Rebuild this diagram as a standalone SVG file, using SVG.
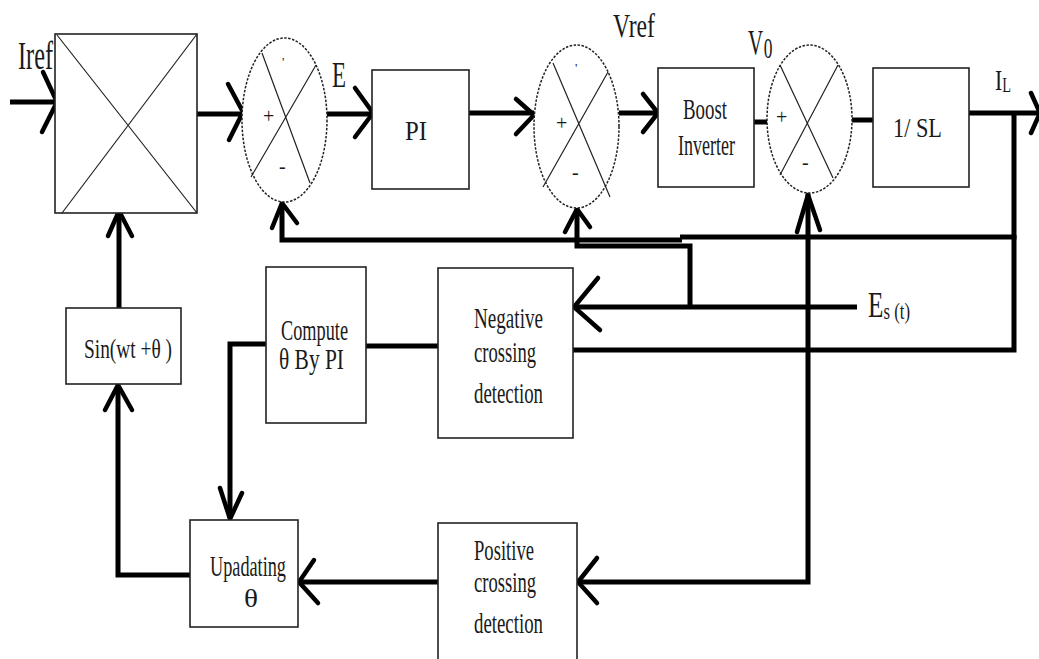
<svg xmlns="http://www.w3.org/2000/svg" width="1039" height="659" viewBox="0 0 1039 659">
<style>
.box{fill:#fff;stroke:#222;stroke-width:1.6}
.thin{fill:none;stroke:#222;stroke-width:1.2}
.sum{fill:#fff;stroke:#222;stroke-width:1.5;stroke-dasharray:2.5 1.5}
.w{fill:none;stroke:#000;stroke-width:5;stroke-linejoin:miter;stroke-linecap:butt}
.ah{fill:none;stroke:#000;stroke-width:4.5;stroke-linecap:round;stroke-linejoin:miter}
text{font-family:"Liberation Serif","Times New Roman",serif;fill:#1a1a1a}
.sg{font-size:20px}
</style>
<rect width="1039" height="659" fill="#fff"/>

<g id="connectors">
  <path class="w" d="M10,102 H55"/>
  <path class="w" d="M197,114 H242"/>
  <path class="w" d="M327,114 H372"/>
  <path class="w" d="M469,113 H534"/>
  <path class="w" d="M619,113 H658"/>
  <path class="w" d="M754,122 H770"/>
  <path class="w" d="M852,120 H873"/>
  <path class="w" d="M969,113 H1039"/>
  <path class="w" d="M1014,113 V237 H680"/>
  <path class="w" d="M682,240 H282 V204"/>
  <path class="w" d="M577,209 V246 H690 V307"/>
  <path class="w" d="M857,307 H575"/>
  <path class="w" d="M1014,235 V350 H573"/>
  <path class="w" d="M808,194 V582 H579"/>
  <path class="w" d="M438,582 H300"/>
  <path class="w" d="M119,308 V213"/>
  <path class="w" d="M190,575 H118 V386"/>
  <path class="w" d="M266,344 H230 V518"/>
  <path class="w" d="M366,346 H438"/>
  <polyline class="ah" points="43,72 57,102 42,132"/>
  <polyline class="ah" points="228,84 243,112 229,140"/>
  <polyline class="ah" points="355,88 373,113 355,137"/>
  <polyline class="ah" points="516,99 534,115 516,134"/>
  <polyline class="ah" points="643,94 658,113 643,132"/>
  <polyline class="ah" points="1031,93 1040,113 1031,133"/>
  <polyline class="ah" points="272,228 282,203 297,223"/>
  <polyline class="ah" points="565,232 577,209 590,227"/>
  <polyline class="ah" points="797,232 808,195 820,230"/>
  <polyline class="ah" points="598,278 574,307 600,330"/>
  <polyline class="ah" points="597,558 578,582 597,603"/>
  <polyline class="ah" points="314,560 299,582 318,603"/>
  <polyline class="ah" points="108,236 119,211 132,236"/>
  <polyline class="ah" points="105,410 118,385 132,410"/>
  <polyline class="ah" points="220,488 230,519 242,493"/>
</g>

<g id="multiplier">
  <rect class="box" x="55" y="34" width="142" height="179"/>
  <path class="thin" d="M57,35 L197,213 M197,34 L62,213"/>
</g>

<g id="sum1">
  <ellipse class="sum" cx="284.5" cy="120" rx="42.5" ry="82"/>
  <path class="thin" d="M262,53 L310,183 M316,65 L251,177"/>
  <text class="sg" x="263" y="123">+</text>
  <text class="sg" x="279" y="173">-</text>
  <text x="282" y="66" font-size="13" fill="#000">'</text>
</g>

<g id="pi">
  <rect class="box" x="372" y="70" width="97" height="119"/>
  <text x="405" y="140" font-size="27" textLength="22" lengthAdjust="spacingAndGlyphs">PI</text>
</g>

<g id="sum2">
  <ellipse class="sum" cx="576.5" cy="126.5" rx="42.5" ry="81.5"/>
  <path class="thin" d="M553,63 L610,197 M608,72 L543,187"/>
  <text class="sg" x="556" y="130">+</text>
  <text class="sg" x="572" y="179">-</text>
  <text x="575" y="72" font-size="13" fill="#000">'</text>
</g>

<g id="boost">
  <rect class="box" x="658" y="68" width="96" height="119"/>
  <text x="683" y="119" font-size="29" textLength="44" lengthAdjust="spacingAndGlyphs">Boost</text>
  <text x="678" y="155" font-size="29" textLength="57" lengthAdjust="spacingAndGlyphs">Inverter</text>
</g>

<g id="sum3">
  <ellipse class="sum" cx="809.5" cy="119" rx="42.5" ry="74"/>
  <path class="thin" d="M780,65 L833,178 M838,65 L780,175"/>
  <text class="sg" x="776" y="124">+</text>
  <text class="sg" x="802" y="169">-</text>
</g>

<g id="sl">
  <rect class="box" x="873" y="68" width="96" height="119"/>
  <text x="893" y="137" font-size="28" textLength="49" lengthAdjust="spacingAndGlyphs">1/ SL</text>
</g>

<g id="sin">
  <rect class="box" x="66" y="308" width="115" height="76"/>
  <text x="84" y="358" font-size="28" textLength="88" lengthAdjust="spacingAndGlyphs">Sin(wt +θ )</text>
</g>

<g id="compute">
  <rect class="box" x="266" y="267" width="100" height="156"/>
  <text x="281" y="340" font-size="29" textLength="67" lengthAdjust="spacingAndGlyphs">Compute</text>
  <text x="279" y="369" font-size="29" textLength="65" lengthAdjust="spacingAndGlyphs">θ By PI</text>
</g>

<g id="negative">
  <rect class="box" x="438" y="268" width="135" height="170"/>
  <text x="474" y="328" font-size="29" textLength="69" lengthAdjust="spacingAndGlyphs">Negative</text>
  <text x="474" y="362" font-size="29" textLength="62" lengthAdjust="spacingAndGlyphs">crossing</text>
  <text x="474" y="403" font-size="29" textLength="69" lengthAdjust="spacingAndGlyphs">detection</text>
</g>

<g id="updating">
  <rect class="box" x="190" y="520" width="108" height="107"/>
  <text x="210" y="576" font-size="29" textLength="76" lengthAdjust="spacingAndGlyphs">Upadating</text>
  <text x="244" y="607" font-size="26" textLength="14" lengthAdjust="spacingAndGlyphs">θ</text>
</g>

<g id="positive">
  <rect class="box" x="438" y="523" width="139" height="145"/>
  <text x="474" y="560" font-size="29" textLength="60" lengthAdjust="spacingAndGlyphs">Positive</text>
  <text x="474" y="592" font-size="29" textLength="62" lengthAdjust="spacingAndGlyphs">crossing</text>
  <text x="474" y="633" font-size="29" textLength="69" lengthAdjust="spacingAndGlyphs">detection</text>
</g>

<g id="labels">
  <text x="18" y="69" font-size="40" textLength="35" lengthAdjust="spacingAndGlyphs">Iref</text>
  <text x="332" y="87" font-size="36" textLength="14" lengthAdjust="spacingAndGlyphs">E</text>
  <text x="613" y="37" font-size="33" textLength="42" lengthAdjust="spacingAndGlyphs">Vref</text>
  <text transform="translate(748,55) scale(0.58,1)" font-size="36">V<tspan font-size="30" dx="1" dy="3">0</tspan></text>
  <text transform="translate(995,90) scale(0.72,1)" font-size="30">I<tspan font-size="20" dy="2">L</tspan></text>
  <text transform="translate(868,317) scale(0.7,1)" font-size="36">E<tspan font-size="24" dy="2">s (t)</tspan></text>
</g>
</svg>
